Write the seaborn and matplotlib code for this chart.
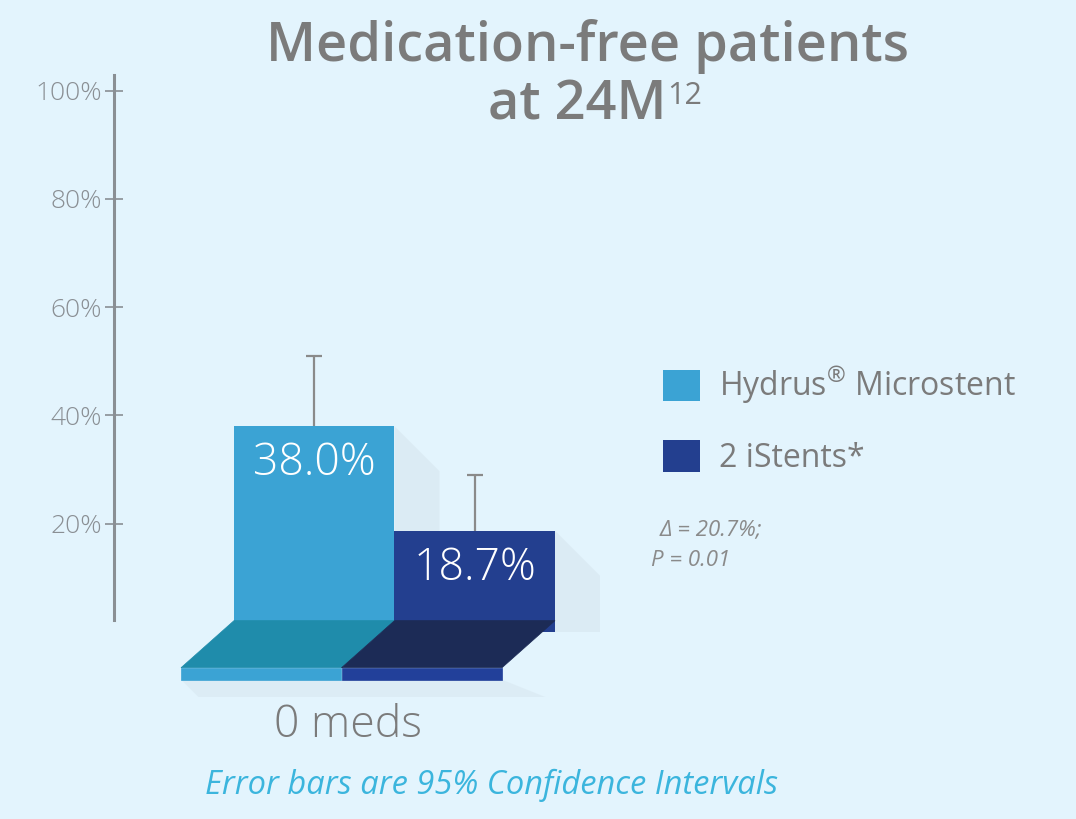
import pandas as pd
import seaborn as sns
import matplotlib.pyplot as plt
from matplotlib.patches import Polygon, Patch

# data
groups = ['0 meds', '0 meds']
devices = ['Hydrus$^{®}$ Microstent', '2 iStents*']
values = [38.0, 18.7]
ci_upper = [51.0, 29.0]
colors = ['#3ba3d4', '#233f8f']
floor_colors = ['#1f8cab', '#1c2b56']
strip_colors = ['#3ba3d4', '#22409a']
yticks = [20, 40, 60, 80, 100]
ytick_labels = ['20%', '40%', '60%', '80%', '100%']

df = pd.DataFrame({'group': groups, 'device': devices, 'value': values})

sns.set_style('white')
plt.rcParams['font.family'] = ['Open Sans', 'DejaVu Sans']
plt.rcParams['mathtext.fontset'] = 'custom'
plt.rcParams['mathtext.rm'] = 'Open Sans'

bg = '#e3f4fd'
grey = '#7b7b7b'
W, H = 1076, 819
fig = plt.figure(figsize=(W / 100, H / 100), dpi=100, facecolor=bg)

# axes: spine at x=114px, y=0 at 632px, 100 at 90.5px
px_per = (632 - 90.5) / 100
ymin, ymax = -12, 103
ax_bottom = 632 + 12 * px_per
ax_top = 632 - ymax * px_per
ax = fig.add_axes([114 / W, 1 - ax_bottom / H, (W - 114) / W, (ax_bottom - ax_top) / H])
ax.set_facecolor(bg)

sns.barplot(data=df, x='group', y='value', hue='device', palette=colors,
            width=0.8, saturation=1, ax=ax, legend=False, zorder=3, linewidth=0)

# 0.8 data width = 321 px
ux = 321 / 0.8
ax.set_xlim(-0.4 - (234 - 114) / ux, -0.4 + (W - 234) / ux)
ax.set_ylim(ymin, ymax)

bars = ax.patches[:2]
for b, up in zip(bars, ci_upper):
    cx = b.get_x() + b.get_width() / 2
    h = b.get_height()
    _, caps, _ = ax.errorbar(cx, h, yerr=[[0], [up - h]], fmt='none',
                             ecolor='#8a8a8a', elinewidth=1.6, capsize=6, capthick=1.6, zorder=2)
    caps[0].set_visible(False)
    ax.text(cx, h - 7, f'{h:.1f}%', color='white', ha='center', va='center',
            fontsize=32, fontweight='light', zorder=5)

# 3D floor + shadows
shift = 53 / ux
top, bot, sbot = 2.1, -6.6, -8.8
for b, fc, sc in zip(bars, floor_colors, strip_colors):
    x0, x1 = b.get_x(), b.get_x() + b.get_width()
    h = b.get_height()
    d = 45 / ux
    ax.add_patch(Polygon([(x1, h), (x1 + d, h - 45 / px_per), (x1 + d, 0), (x1, 0)],
                         closed=True, fc='#a4afb6', alpha=0.12, lw=0, zorder=1))
    ax.add_patch(Polygon([(x0, top), (x1, top), (x1 - shift, bot), (x0 - shift, bot)],
                         closed=True, fc=fc, ec=fc, lw=0.5, zorder=4))
    ax.add_patch(Polygon([(x0 - shift, bot), (x1 - shift, bot), (x1 - shift, sbot), (x0 - shift, sbot)],
                         closed=True, fc=sc, ec=sc, lw=0.5, zorder=4))
x_end = bars[1].get_x() + bars[1].get_width() - shift
ax.add_patch(Polygon([(bars[0].get_x() - shift, sbot), (x_end, sbot),
                      (x_end + 150 / ux, sbot - 60 / px_per), (bars[0].get_x() - shift + 60 / ux, sbot - 60 / px_per)],
                     closed=True, fc='#a4afb6', alpha=0.1, lw=0, zorder=1))

# axis styling
for s in ['top', 'right', 'bottom']:
    ax.spines[s].set_visible(False)
ax.spines['left'].set_color('#8a8f94')
ax.spines['left'].set_linewidth(2.2)
ax.spines['left'].set_bounds((632 - 620) / px_per, (632 - 75) / px_per)
ax.set_yticks(yticks)
ax.set_yticklabels(ytick_labels)
ax.tick_params(axis='y', direction='inout', length=13, width=1.2, color='#8a8f94',
               labelcolor='#8a8f94', labelsize=19, pad=2, left=True)
for t in ax.get_yticklabels():
    t.set_fontweight('light')
ax.set_xticks([])
ax.set_xlabel('')
ax.set_ylabel('')

# legend
handles = [Patch(fc=c, ec='none') for c in colors]
fig.legend(handles, devices, loc='upper left', bbox_to_anchor=(663 / W, 1 - 365 / H),
           frameon=False, fontsize=23, labelcolor=grey, handlelength=1.15, handleheight=1.15,
           handletextpad=0.6, labelspacing=1.05, borderpad=0, borderaxespad=0)

# texts
fig.text(587 / W, 1 - 46 / H, 'Medication-free patients', ha='center', va='center',
         fontsize=39, color=grey, fontweight='semibold')
t2 = fig.text(577 / W, 1 - 106 / H, 'at 24M', ha='center', va='center',
              fontsize=39, color=grey, fontweight='semibold')
ax.annotate('12', xy=(1, 0.97), xycoords=t2, xytext=(1, 0), textcoords='offset points',
            ha='left', va='top', fontsize=22, color=grey)
fig.text(660 / W, 1 - 530 / H, 'Δ = 20.7%;', ha='left', va='center', fontsize=16,
         color='#8a8a8a', style='italic')
fig.text(651 / W, 1 - 561 / H, 'P = 0.01', ha='left', va='center', fontsize=16,
         color='#8a8a8a', style='italic')
fig.text(348 / W, 1 - 726 / H, groups[0], ha='center', va='center', fontsize=32,
         color=grey, fontweight='light')
fig.text(492 / W, 1 - 785 / H, 'Error bars are 95% Confidence Intervals', ha='center',
         va='center', fontsize=23.5, color='#3bb5dd', style='italic')

fig.savefig('out.png', dpi=100, facecolor=bg)
